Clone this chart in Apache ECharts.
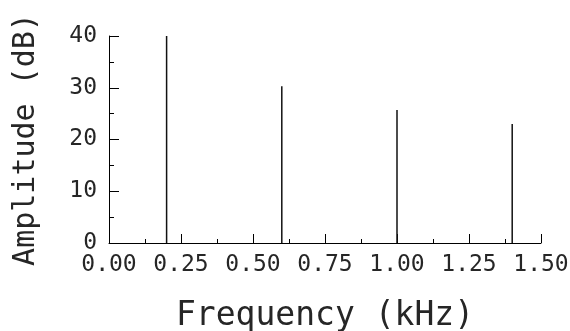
<!DOCTYPE html>
<html>
<head>
<meta charset="utf-8">
<script src="https://cdn.jsdelivr.net/npm/echarts@6/dist/echarts.min.js"></script>
<style>
html,body{margin:0;padding:0;background:#fff;}
#chart{width:570px;height:331px;}
</style>
</head>
<body>
<div id="chart"></div>
<script>
var frequencies = [0.2, 0.6, 1.0, 1.4];
var amplitudes = [40, 30.3, 25.7, 23.0];
var xTitle = 'Frequency (kHz)';
var yTitle = 'Amplitude (dB)';

var font = 'DejaVu Sans Mono';
var ink = '#262626';
var chart = echarts.init(document.getElementById('chart'), null, {renderer: 'canvas'});
chart.setOption({
  animation: false,
  backgroundColor: '#ffffff',
  grid: {left: 109, right: 29, top: 36, bottom: 88, containLabel: false, outerBoundsMode: 'none'},
  xAxis: {
    type: 'value', min: 0, max: 1.5, interval: 0.25,
    name: xTitle, nameLocation: 'middle', nameGap: 57,
    nameTextStyle: {fontFamily: font, fontSize: 33, color: ink},
    axisLine: {show: true, lineStyle: {color: '#000', width: 1}},
    axisTick: {show: true, inside: true, length: 9, lineStyle: {color: '#000'}},
    minorTick: {show: true, splitNumber: 2, length: 4, lineStyle: {color: '#000'}},
    splitLine: {show: false},
    axisLabel: {margin: 11, fontFamily: font, fontSize: 23, color: ink,
      formatter: function (v) { return v.toFixed(2); }}
  },
  yAxis: {
    type: 'value', min: 0, max: 40, interval: 10,
    name: yTitle, nameLocation: 'middle', nameGap: 68,
    nameTextStyle: {fontFamily: font, fontSize: 30, color: ink},
    axisLine: {show: true, lineStyle: {color: '#000', width: 1}},
    axisTick: {show: true, inside: true, length: 10, lineStyle: {color: '#000'}},
    minorTick: {show: true, splitNumber: 2, length: 5, lineStyle: {color: '#000'}},
    splitLine: {show: false},
    axisLabel: {margin: 12, fontFamily: font, fontSize: 23, color: ink}
  },
  series: [{
    type: 'bar',
    barWidth: 1.5,
    itemStyle: {color: '#111'},
    data: frequencies.map(function (f, i) { return [f, amplitudes[i]]; })
  }]
});
</script>
</body>
</html>
